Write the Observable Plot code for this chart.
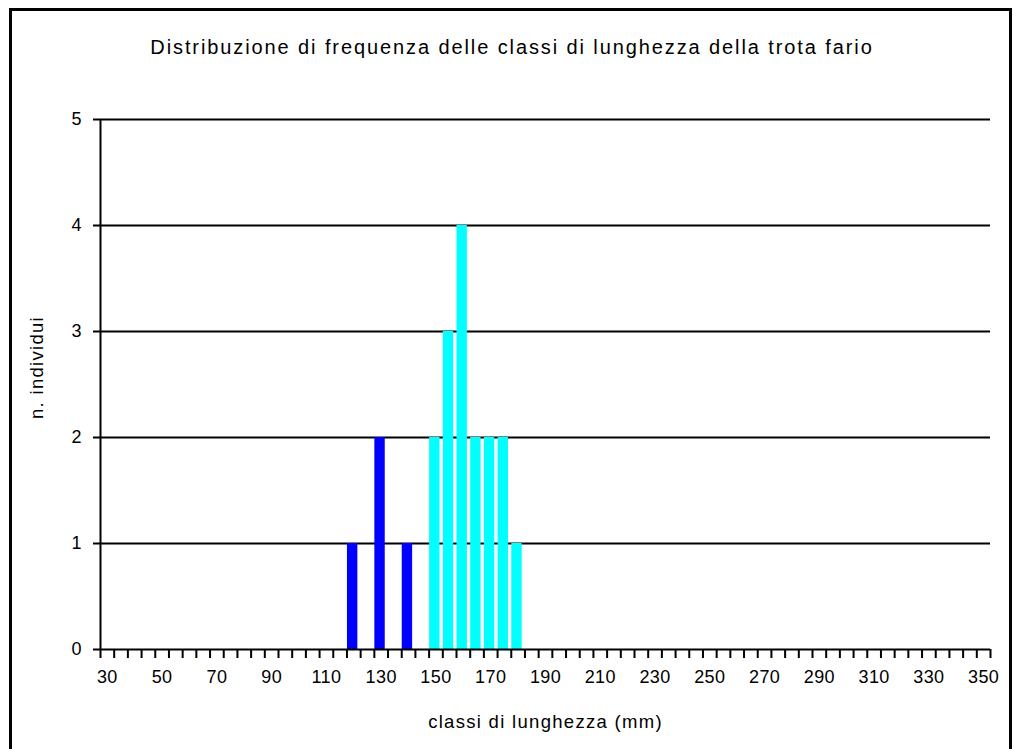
<!DOCTYPE html>
<html>
<head>
<meta charset="utf-8">
<script src="https://cdn.jsdelivr.net/npm/d3@7"></script>
<script src="https://cdn.jsdelivr.net/npm/@observablehq/plot@0.6"></script>
<style>
  html, body { margin: 0; padding: 0; background: #fff; }
  body { width: 1013px; height: 749px; overflow: hidden; position: relative; font-family: "Liberation Sans", Arial, sans-serif; }
  #frame { position: absolute; left: 9px; top: 8px; width: 997px; height: 760px; border: 3px solid #000; box-sizing: content-box; }
  #title { position: absolute; left: 0; width: 1024px; top: 35px; line-height: 24px; text-align: center; font-size: 20px; color: #000; letter-spacing: 1.9px; }
  #chart { position: absolute; left: 0; top: 0; }
  #chart [aria-label="x-axis label"] text, #chart .ylab text { letter-spacing: 1.3px; }
  #chart [aria-label="x-axis tick label"] text { letter-spacing: 0.4px; }
</style>
</head>
<body>
<div id="frame"></div>
<div id="title">Distribuzione di frequenza delle classi di lunghezza della trota fario</div>
<div id="chart"></div>
<script>
// Length classes (mm) and number of individuals
const blueClasses = [120, 130, 140];
const blueCounts  = [1, 2, 1];
const cyanClasses = [150, 155, 160, 165, 170, 175, 180];
const cyanCounts  = [2, 3, 4, 2, 2, 2, 1];
const classStart = 30, classEnd = 350, classStep = 5;
const xTickLabels = [30, 50, 70, 90, 110, 130, 150, 170, 190, 210, 230, 250, 270, 290, 310, 330, 350];
const yTicks = [0, 1, 2, 3, 4, 5];
const yTitle = "n. individui";
const xTitle = "classi di lunghezza (mm)";

const half = classStep / 2;
const blueData = blueClasses.map((c, i) => ({cls: c, n: blueCounts[i]}));
const cyanData = cyanClasses.map((c, i) => ({cls: c, n: cyanCounts[i]}));
const boundaries = d3.range(classStart - half, classEnd + half + 0.001, classStep);

const plot = Plot.plot({
  width: 1013,
  height: 749,
  marginLeft: 100,
  marginRight: 23,
  marginTop: 119,
  marginBottom: 100,
  style: {fontFamily: '"Liberation Sans", Arial, sans-serif', fontSize: "18px", color: "#000", background: "transparent"},
  x: {domain: [classStart - half, classEnd + half]},
  y: {domain: [0, 5]},
  marks: [
    Plot.ruleY(yTicks.filter(d => d > 0), {stroke: "#000", strokeWidth: 2}),
    Plot.rectY(blueData, {x1: d => d.cls - half, x2: d => d.cls + half, y: "n", fill: "#0000FF", insetLeft: 0.5, insetRight: 2.8}),
    Plot.rectY(cyanData, {x1: d => d.cls - half, x2: d => d.cls + half, y: "n", fill: "#00FFFF", insetLeft: 0.5, insetRight: 2.8}),
    Plot.ruleY([0], {stroke: "#000", strokeWidth: 2}),
    Plot.ruleX([classStart - half], {stroke: "#000", strokeWidth: 2}),
    Plot.axisY({ticks: yTicks, tickSize: 7, tickPadding: 12, strokeWidth: 2, tickFormat: d => String(d), label: null, fontSize: 18}),
    Plot.text([yTitle], {frameAnchor: "left", textAnchor: "middle", rotate: -90, dx: -63, dy: -17, fontSize: 18.5, className: "ylab"}),
    Plot.axisX({ticks: boundaries, tickFormat: () => "", tickSize: 9, strokeWidth: 2, label: null}),
    Plot.axisX({ticks: xTickLabels, tickSize: 0, tickPadding: 21, tickFormat: d => String(d), fontSize: 18, label: xTitle, labelAnchor: "center", labelArrow: "none", labelOffset: 78})
  ]
});
document.getElementById("chart").appendChild(plot);
document.querySelectorAll('#chart [aria-label="x-axis label"] text').forEach(t => t.setAttribute("font-size", "18.5"));
</script>
</body>
</html>
